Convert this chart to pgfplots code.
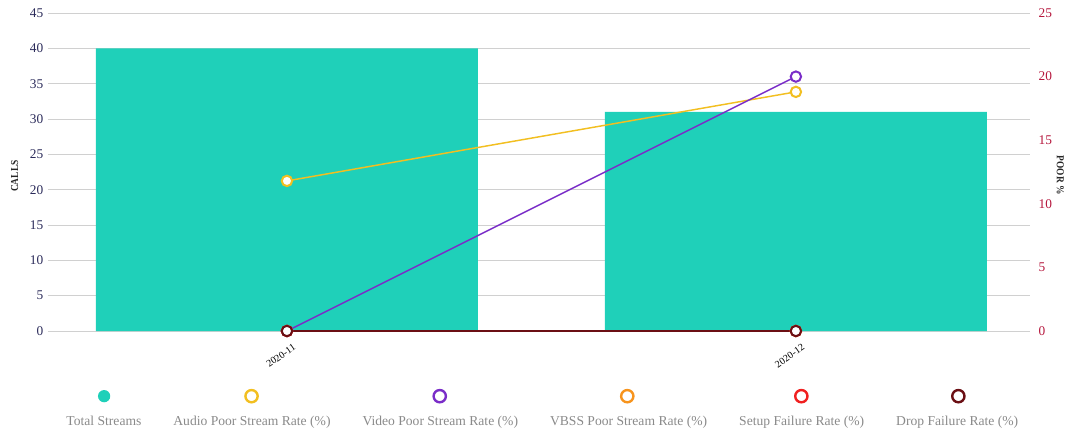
\documentclass[border=0pt]{standalone}
\usepackage{fontspec}
\setmainfont{Liberation Serif}
\usepackage{pgfplots}
\pgfplotsset{compat=1.18}
\definecolor{barteal}{HTML}{1FD0B9}
\definecolor{audioc}{HTML}{F2BF21}
\definecolor{videoc}{HTML}{7A2DC8}
\definecolor{vbssc}{HTML}{F7941D}
\definecolor{setupc}{HTML}{F02020}
\definecolor{dropc}{HTML}{6B0F14}
\definecolor{navyc}{HTML}{2B2B5A}
\definecolor{crimc}{HTML}{B5163C}
\definecolor{gridc}{HTML}{D0D0D0}
\definecolor{legc}{HTML}{8A8A8A}
\pgfplotsset{
  legcirc/.style 2 args={legend image code/.code={\path[overlay,#1] (#2,19pt) circle (4.6pt);}},
  common/.style={
    scale only axis, width=736.5pt, height=238.5pt,
    xmin=-0.4695, xmax=1.46,
    axis line style={draw=none}, major tick style={draw=none},
    /pgf/number format/assume math mode=true,
  },
}
\begin{document}
\begin{tikzpicture}
\begin{axis}[common, name=ax1,
  ymin=0, ymax=45, ytick={0,5,...,45},
  xtick={0,1}, xticklabels={2020-11,2020-12},
  x tick label style={rotate=35, anchor=north east, font=\fontsize{7.5}{8}\selectfont, xshift=4pt, yshift=-3pt},
  ymajorgrids, grid style={draw=gridc, line width=0.6pt},
  y tick label style={font=\fontsize{10}{11}\selectfont, text=navyc},
  ylabel={\scalebox{0.88}[1]{\textbf{CALLS}}},
  ylabel style={at={(axis description cs:-0.034,0.487)}, anchor=center, font=\fontsize{8}{9}\selectfont, text=black!85},
  ybar, bar width=286.5pt,
]
\addplot[fill=barteal, draw=none] coordinates {(0,40) (1,31)};
\end{axis}
\begin{axis}[common,
  ymin=0, ymax=25, ytick={0,5,...,25},
  axis y line*=right, axis x line=none,
  y tick label style={font=\fontsize{10}{11}\selectfont, text=crimc, xshift=3pt},
  ylabel={\scalebox{0.88}[1]{\textbf{POOR \%}}},
  ylabel style={at={(axis description cs:1.031,0.49)}, anchor=center, rotate=180, font=\fontsize{8}{9}\selectfont, text=black!85},
  legend columns=6,
  legend style={at={(0.5,-0.249)}, xshift=-7.5pt, anchor=north, draw=none, fill=none,
    font=\fontsize{10.2}{12}\selectfont, text=legc,
    /tikz/every odd column/.append style={column sep=20pt}},
]
\addlegendimage{legcirc={draw=none, fill=barteal}{50.25pt}}
\addlegendentry{Total Streams}
\addplot[color=audioc, line width=1.1pt, mark=*, mark size=3.9pt, mark options={fill=white, draw=audioc, line width=1.5pt}, legcirc={draw=audioc, line width=1.8pt, fill=white}{80.6pt}] coordinates {(0,11.8) (1,18.8)};
\addlegendentry{Audio Poor Stream Rate (\%)}
\addplot[color=videoc, line width=1.1pt, mark=*, mark size=3.9pt, mark options={fill=white, draw=videoc, line width=1.5pt}, legcirc={draw=videoc, line width=1.8pt, fill=white}{79.9pt}] coordinates {(0,0) (1,20)};
\addlegendentry{Video Poor Stream Rate (\%)}
\addplot[color=vbssc, line width=1.1pt, mark=*, mark size=3.9pt, mark options={fill=white, draw=vbssc, line width=1.5pt}, legcirc={draw=vbssc, line width=1.8pt, fill=white}{79.9pt}] coordinates {(0,0) (1,0)};
\addlegendentry{VBSS Poor Stream Rate (\%)}
\addplot[color=setupc, line width=1.1pt, mark=*, mark size=3.9pt, mark options={fill=white, draw=setupc, line width=1.5pt}, legcirc={draw=setupc, line width=1.8pt, fill=white}{68.6pt}] coordinates {(0,0) (1,0)};
\addlegendentry{Setup Failure Rate (\%)}
\addplot[color=dropc, line width=1.1pt, mark=*, mark size=3.9pt, mark options={fill=white, draw=dropc, line width=1.5pt}, legcirc={draw=dropc, line width=1.8pt, fill=white}{68.6pt}] coordinates {(0,0) (1,0)};
\addlegendentry{Drop Failure Rate (\%)}
\end{axis}
\pgfresetboundingbox
\useasboundingbox ([xshift=-36pt,yshift=-75.75pt]ax1.south west) rectangle ([xshift=30pt,yshift=9.75pt]ax1.north east);
\end{tikzpicture}
\end{document}
